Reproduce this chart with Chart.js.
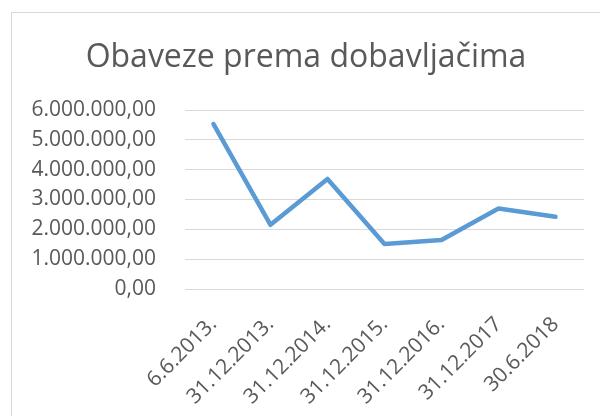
<!DOCTYPE html>
<html lang="bs">
<head>
    <meta charset="UTF-8">
    <title>Obaveze prema dobavljačima</title>
    <script src="https://cdn.jsdelivr.net/npm/chart.js"></script>
    <style>
        body {
            margin: 0;
            width: 600px;
            height: 416px;
            overflow: hidden;
            background: #fff;
            position: relative;
        }
        .frame {
            position: absolute;
            left: 11px;
            top: 12px;
            width: 700px;
            height: 500px;
            border: 1px solid #d9d9d9;
        }
        .wrap {
            position: absolute;
            left: 0;
            top: 0;
            width: 600px;
            height: 416px;
        }
    </style>
</head>
<body>
    <div class="frame"></div>
    <div class="wrap"><canvas id="supplierChart"></canvas></div>

    <script>
        // Data
        const dates = ['6.6.2013.', '31.12.2013.', '31.12.2014.', '31.12.2015.', '31.12.2016.', '31.12.2017', '30.6.2018'];
        const obligations = [5530000, 2150000, 3690000, 1510000, 1640000, 2700000, 2420000];
        const yTicks = [0, 1000000, 2000000, 3000000, 4000000, 5000000, 6000000];

        // 6000000 -> "6.000.000,00"
        function formatAmount(v) {
            const parts = Math.round(v).toString().replace(/\B(?=(\d{3})+(?!\d))/g, '.');
            return parts + ',00';
        }

        const textColor = '#595959';
        const font = "'Open Sans', sans-serif";

        const ctx = document.getElementById('supplierChart').getContext('2d');
        new Chart(ctx, {
            type: 'line',
            data: {
                labels: dates,
                datasets: [{
                    label: 'Obaveze prema dobavljačima',
                    data: obligations,
                    borderColor: '#5b9bd5',
                    borderWidth: 4.5,
                    borderCapStyle: 'round',
                    borderJoinStyle: 'round',
                    pointRadius: 0,
                    tension: 0,
                    fill: false
                }]
            },
            options: {
                responsive: true,
                maintainAspectRatio: false,
                animation: false,
                // left padding nudges the centred title right, like in Excel
                layout: { padding: { left: 28, right: 16, top: 0, bottom: 0 } },
                plugins: {
                    legend: { display: false },
                    tooltip: { enabled: false },
                    title: {
                        display: true,
                        text: 'Obaveze prema dobavljačima',
                        color: textColor,
                        font: { family: font, size: 32, weight: 'normal', lineHeight: 1.2 },
                        padding: { top: 39, bottom: 32.6 }
                    }
                },
                scales: {
                    x: {
                        offset: true,
                        grid: { display: false },
                        border: { display: false },
                        ticks: {
                            color: textColor,
                            font: { family: font, size: 21 },
                            minRotation: 45,
                            maxRotation: 45,
                            padding: 15,
                            autoSkip: false
                        },
                        afterFit(scale) { scale.height = 127; }
                    },
                    y: {
                        min: 0,
                        max: 6000000,
                        grid: { color: '#d9d9d9', lineWidth: 1, drawTicks: false },
                        border: { display: false },
                        afterBuildTicks(scale) { scale.ticks = yTicks.map(v => ({ value: v })); },
                        ticks: {
                            color: textColor,
                            font: { family: font, size: 21 },
                            padding: 29,
                            callback: v => formatAmount(v)
                        },
                        afterFit(scale) { scale.width = 157; }
                    }
                }
            }
        });
    </script>
</body>
</html>
